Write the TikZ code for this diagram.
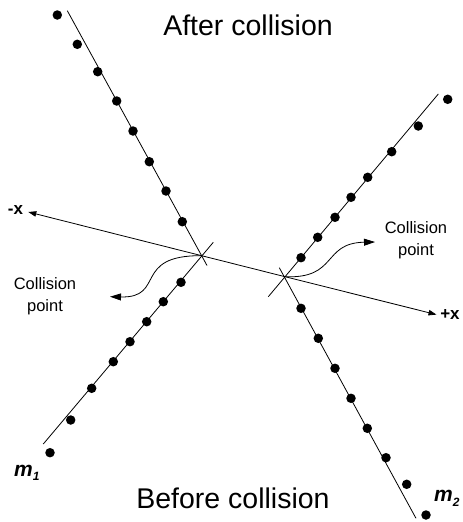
\documentclass[tikz,border=0pt]{standalone}
\usepackage{fontspec}
\setmainfont{Liberation Sans}
\usetikzlibrary{arrows.meta}
\begin{document}
\begin{tikzpicture}[x=1pt,y=-1pt,
  traj/.style={draw=black,line width=0.8pt},
  ball/.style={circle,fill=black,inner sep=0pt,minimum size=9.5pt},
  axisarrow/.style={draw=black,line width=0.8pt,-{Triangle[length=8pt,width=5.5pt]}},
  curvearrow/.style={draw=black,line width=0.8pt,-{Triangle[length=11pt,width=7pt]}},
  bigtitle/.style={font=\fontsize{28.5}{34}\selectfont,inner sep=0pt},
  smalltext/.style={font=\fontsize{16.5}{21.5}\selectfont,align=center,inner sep=0pt},
  axislabel/.style={font=\fontsize{17}{20}\selectfont\bfseries,inner sep=0pt},
  masslabel/.style={font=\fontsize{21}{22}\selectfont\bfseries\itshape,inner sep=0pt}]
\useasboundingbox (0,0) rectangle (463,522);
% collision points and line ends
\coordinate (c1) at (201.7,255.7);
\coordinate (c2) at (285,276.7);
\coordinate (a0) at (67.3,10.7);
\coordinate (a9) at (207,265.5);
\coordinate (b0) at (43.3,444);
\coordinate (b9) at (213.3,242.3);
\coordinate (cc0) at (438.3,94);
\coordinate (cc9) at (268.3,296.7);
\coordinate (d0) at (279.3,267.7);
\coordinate (d9) at (416,518.3);
\coordinate (xl) at (28.3,212);
\coordinate (xr) at (436.5,314.6);
% trajectories
\draw[traj] (a0) -- (a9);
\draw[traj] (b0) -- (b9);
\draw[traj] (cc0) -- (cc9);
\draw[traj] (d0) -- (d9);
% x axis
\draw[axisarrow] (c1) -- (xl);
\draw[axisarrow] (c2) -- (xr);
\draw[traj] (c1) -- (c2);
% balls
\foreach \p [count=\i] in {(57.3,15),(77.3,44.3),(97.7,71.7),(116.7,101),(133,131),(149.3,161.7),(166,191),(182.3,221.7)}
  \node[ball] (ua\i) at \p {};
\foreach \p [count=\i] in {(181,282.3),(163.3,301.7),(146.7,321.7),(130,341.7),(113.3,361.7),(91.7,388.3),(70.7,420),(50,452.7)}
  \node[ball] (lb\i) at \p {};
\foreach \p [count=\i] in {(447.7,99.3),(418.3,126),(391.7,151.7),(367.7,177.3),(351,197.3),(335,217.3),(317.7,237.3),(301,257.7)}
  \node[ball] (uc\i) at \p {};
\foreach \p [count=\i] in {(301,308.3),(318.3,338.3),(335,368.3),(351,398.3),(367.3,428.3),(386,457.7),(406.7,484.3),(426,515)}
  \node[ball] (ld\i) at \p {};
% curved arrows
\coordinate (t1) at (110,296.7);
\coordinate (t2) at (375,242);
\draw[curvearrow] (c1) .. controls (132,255) and (166,298) .. (t1);
\draw[curvearrow] (c2) .. controls (338,279) and (322,243) .. (t2);
% texts
\node[bigtitle] (after) at (248,25) {After collision};
\node[bigtitle] (before) at (233,498) {Before collision};
\node[smalltext] (cpl) at (45,296) {Collision\\point};
\node[smalltext] (cpr) at (416,240) {Collision\\point};
\node[axislabel] (mx) at (15.5,210.5) {-x};
\node[axislabel] (px) at (450,315) {+x};
\node[masslabel,anchor=base west] (m1) at (14,476) {m\raisebox{-0.45ex}{\fontsize{12}{12}\selectfont 1}};
\node[masslabel,anchor=base west] (m2) at (434,501.5) {m\raisebox{-0.45ex}{\fontsize{12}{12}\selectfont 2}};
\end{tikzpicture}
\end{document}
